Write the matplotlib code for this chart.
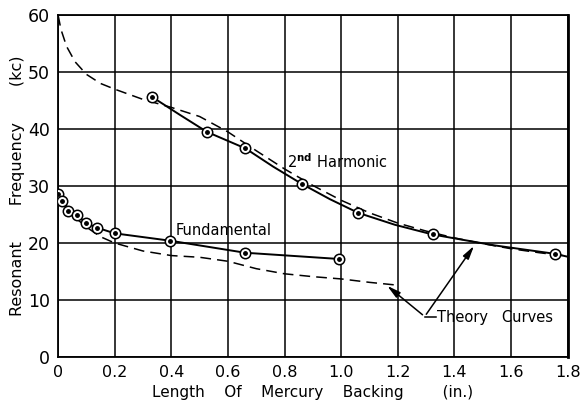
import matplotlib.pyplot as plt

# measured points
fund_x = [0.0, 0.014, 0.035, 0.067, 0.098, 0.137, 0.2, 0.397, 0.66, 0.993]
fund_y = [28.6, 27.4, 25.6, 24.9, 23.5, 22.7, 21.7, 20.4, 18.3, 17.2]
harm_x = [0.33, 0.526, 0.662, 0.86, 1.06, 1.323, 1.756]
harm_y = [45.7, 39.5, 36.6, 30.4, 25.3, 21.5, 18.1]

# solid fitted curve of the 2nd harmonic runs on to the right edge
harm_fit_x = [0.33, 0.43, 0.526, 0.662, 0.76, 0.86, 0.96, 1.06, 1.19, 1.323, 1.54, 1.756, 1.8]
harm_fit_y = [45.7, 42.5, 39.5, 36.6, 33.4, 30.4, 27.7, 25.3, 23.2, 21.5, 19.6, 18.1, 17.6]

# theory curves (dashed)
th_harm_x = [0, 0.01, 0.03, 0.06, 0.1, 0.15, 0.2, 0.3, 0.4, 0.5, 0.6, 0.7,
             0.8, 0.9, 1.0, 1.1, 1.2, 1.3, 1.4, 1.5, 1.6, 1.7, 1.8]
th_harm_y = [60, 57.5, 54.5, 51.8, 49.6, 48.0, 47.0, 45.2, 43.8, 42.2, 39.5, 36.2,
             33.0, 30.1, 27.5, 25.3, 23.5, 22.1, 20.9, 19.9, 19.0, 18.3, 17.7]
th_fund_x = [0, 0.03, 0.06, 0.1, 0.15, 0.2, 0.3, 0.4, 0.5, 0.6, 0.7, 0.8, 0.9, 1.0, 1.1, 1.2]
th_fund_y = [29.5, 26.5, 24.5, 22.8, 21.1, 20.0, 18.6, 17.8, 17.5, 16.8, 15.5, 14.6, 14.1, 13.7, 13.1, 12.6]

xticks = [0, 0.2, 0.4, 0.6, 0.8, 1.0, 1.2, 1.4, 1.6, 1.8]
xlabels = ["0", "0.2", "0.4", "0.6", "0.8", "1.0", "1.2", "1.4", "1.6", "1.8"]
yticks = [0, 10, 20, 30, 40, 50, 60]

plt.rcParams['font.family'] = ['DejaVu Sans']

fig = plt.figure(figsize=(5.81, 4.08), dpi=100)
ax = fig.add_axes([0.1, 0.125, 0.877, 0.838])

ax.set_xlim(0, 1.8)
ax.set_ylim(0, 60)
ax.set_xticks(xticks)
ax.set_xticklabels(xlabels, fontsize=11.5)
ax.set_yticks(yticks)
ax.set_yticklabels([str(v) for v in yticks], fontsize=12.5)
ax.tick_params(length=0, pad=6)
ax.grid(True, color="black", linewidth=1.1)
for s in ax.spines.values():
    s.set_linewidth(1.3)
ax.spines['right'].set_linewidth(2.0)

ax.plot(th_harm_x, th_harm_y, color="black", lw=1.1, dashes=(7, 4))
ax.plot(th_fund_x, th_fund_y, color="black", lw=1.1, dashes=(7, 4))
ax.plot(harm_fit_x, harm_fit_y, color="black", lw=1.4)
ax.plot(fund_x, fund_y, color="black", lw=1.4)

for xs, ys in [(fund_x, fund_y), (harm_x, harm_y)]:
    ax.plot(xs, ys, ls="none", marker="o", ms=7.5, mfc="white", mec="black", mew=1.1, zorder=5)
    ax.plot(xs, ys, ls="none", marker="o", ms=2.5, color="black", zorder=6)

ax.text(0.415, 22.2, "Fundamental", fontsize=10.5, va="center")
ax.text(0.81, 34.2, r"2$^{\mathbf{nd}}$ Harmonic", fontsize=10.5, va="center")
ax.text(1.34, 7.0, "Theory   Curves", fontsize=10.5, va="center")

arrow = dict(arrowstyle="-|>,head_length=0.8,head_width=0.2", color="black", lw=1.1)
ax.annotate("", xy=(1.155, 12.8), xytext=(1.295, 7.1), arrowprops=arrow)
ax.annotate("", xy=(1.475, 19.9), xytext=(1.295, 7.1), arrowprops=arrow)
ax.plot([1.295, 1.335], [7.1, 7.1], color="black", lw=1.1)

ax.set_xlabel("Length    Of    Mercury    Backing        (in.)", fontsize=11, labelpad=3)
ax.set_ylabel("Resonant       Frequency       (kc)", fontsize=11.5, labelpad=2)

fig.savefig("out.png", dpi=100)
